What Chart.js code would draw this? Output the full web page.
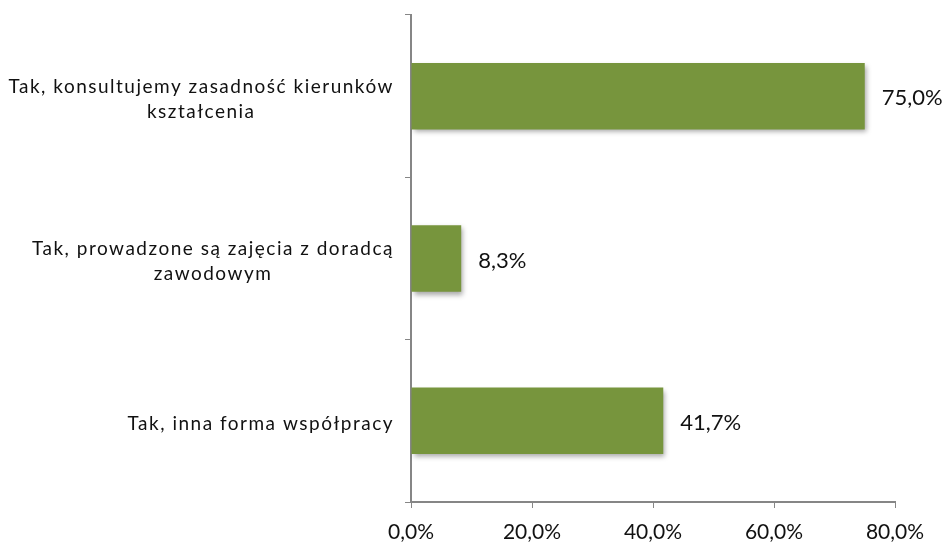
<!DOCTYPE html>
<html>
<head>
<meta charset="utf-8">
<script src="https://cdn.jsdelivr.net/npm/chart.js@4"></script>
<style>
  html, body { margin: 0; padding: 0; background: #fff; }
  #wrap { width: 949px; height: 545px; }
</style>
</head>
<body>
<div id="wrap"><canvas id="chart" width="949" height="545"></canvas></div>
<script>
const categories = [
  ['Tak, konsultujemy zasadność kierunków', 'kształcenia'],
  ['Tak, prowadzone są zajęcia z doradcą', 'zawodowym'],
  ['Tak, inna forma współpracy'],
];
const values = [75.0, 8.3, 41.7];
const xTicks = [0, 20, 40, 60, 80];

const BAR_COLOR = '#77953D';
const AXIS_COLOR = '#868686';
const FONT = 'Lato';
const fmt = v => v.toFixed(1).replace('.', ',') + '%';

// bar drop shadow, like the office original
const shadow = {
  id: 'shadow',
  beforeDatasetsDraw(chart) {
    const c = chart.ctx;
    c.save();
    c.shadowColor = 'rgba(0,0,0,0.35)';
    c.shadowBlur = 5;
    c.shadowOffsetX = 2;
    c.shadowOffsetY = 3;
  },
  afterDatasetsDraw(chart) { chart.ctx.restore(); }
};

// category labels: lines centered on each other, block right-aligned
const catLabels = {
  id: 'catLabels',
  afterDraw(chart) {
    const c = chart.ctx, y = chart.scales.y;
    c.save();
    c.font = `19px "${FONT}"`;
    c.letterSpacing = '1.5px';
    c.fillStyle = '#111';
    c.textAlign = 'center';
    c.textBaseline = 'middle';
    const right = 394, lh = 25;
    categories.forEach((lines, i) => {
      const w = Math.max(...lines.map(l => c.measureText(l).width));
      const cx = right - w / 2;
      const cy = y.getPixelForValue(i) + 3;
      lines.forEach((l, j) => c.fillText(l, cx, cy + (j - (lines.length - 1) / 2) * lh));
    });
    c.restore();
  }
};

const valueLabels = {
  id: 'valueLabels',
  afterDatasetsDraw(chart) {
    const c = chart.ctx;
    c.save();
    c.font = `22px "${FONT}"`;
    c.fillStyle = '#111';
    c.textAlign = 'left';
    c.textBaseline = 'middle';
    chart.getDatasetMeta(0).data.forEach((bar, i) => {
      c.fillText(fmt(values[i]), bar.x + 17, bar.y + 2);
    });
    c.restore();
  }
};

new Chart(document.getElementById('chart'), {
  type: 'bar',
  data: {
    labels: categories,
    datasets: [{ data: values, backgroundColor: BAR_COLOR, barPercentage: 0.41, categoryPercentage: 1 }]
  },
  options: {
    indexAxis: 'y',
    responsive: false,
    animation: false,
    layout: { padding: { left: 0, top: 15, right: 54, bottom: 0 } },
    plugins: { legend: { display: false }, tooltip: { enabled: false } },
    scales: {
      x: {
        min: 0, max: 80,
        afterBuildTicks: s => { s.ticks = xTicks.map(v => ({ value: v })); },
        afterFit: s => { s.height = 43; },
        grid: { drawOnChartArea: false, color: AXIS_COLOR, tickLength: 6 },
        border: { color: AXIS_COLOR, width: 2 },
        ticks: { callback: v => fmt(v), color: '#111', font: { family: FONT, size: 21 }, padding: 12, maxRotation: 0 }
      },
      y: {
        afterFit: s => { s.width = 411; },
        grid: { drawOnChartArea: false, color: AXIS_COLOR, tickLength: 6, offset: true },
        border: { color: AXIS_COLOR, width: 2 },
        ticks: { display: false }
      }
    }
  },
  plugins: [shadow, catLabels, valueLabels]
});
</script>
</body>
</html>
